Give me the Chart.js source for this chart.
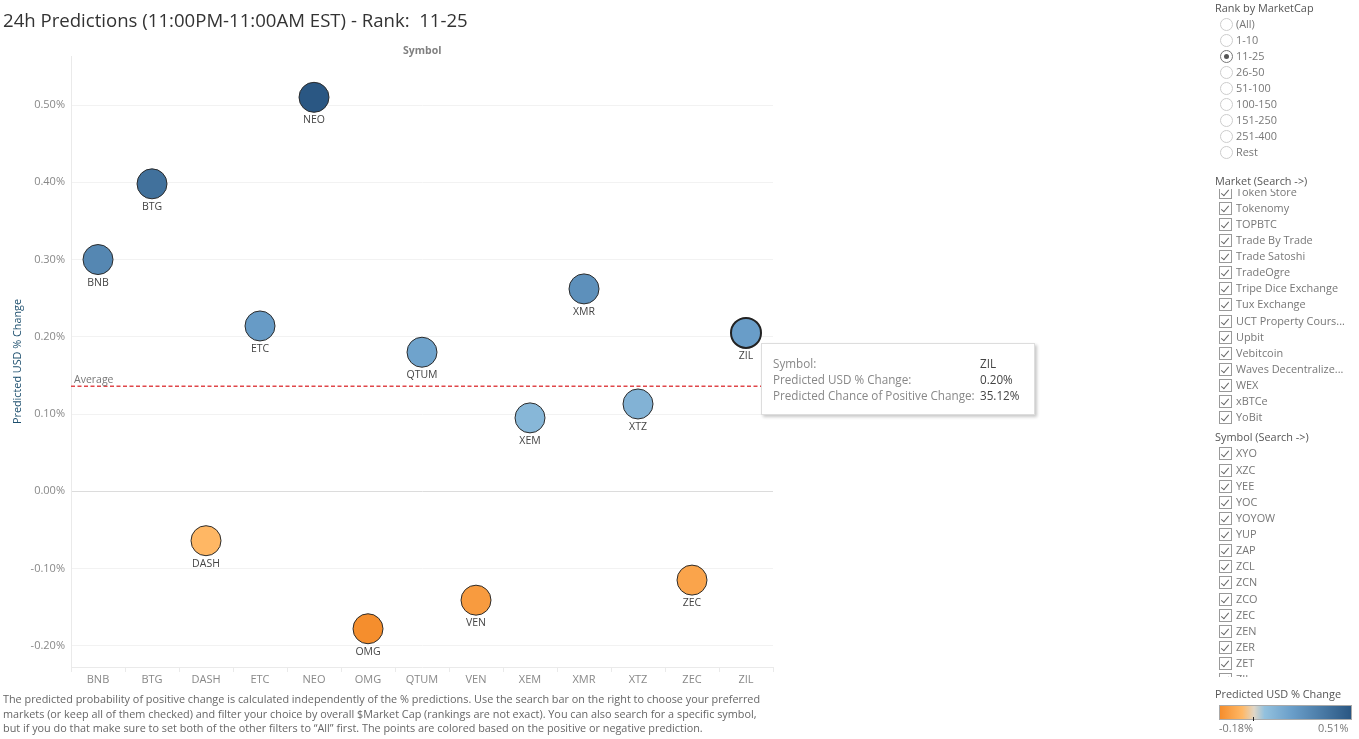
<!DOCTYPE html>
<html>
<head>
<meta charset="utf-8">
<script src="https://cdn.jsdelivr.net/npm/chart.js@4"></script>
<style>
html,body{margin:0;padding:0;background:#fff;overflow:hidden;}
body{width:1359px;height:739px;position:relative;font-family:'Open Sans',sans-serif;color:#555;}
#myChart{position:absolute;left:0;top:0;}
.abs{position:absolute;white-space:nowrap;}
#title{left:3px;top:7px;font-size:18.6px;line-height:25px;color:#333;}
#symbolTitle{left:403px;top:43px;font-size:10.5px;font-weight:700;color:#808080;}
#note{left:3px;top:692px;font-size:10.85px;line-height:14.6px;color:#666;}
#tip{left:761px;top:343px;width:272px;height:70px;background:#fff;border:1px solid #ddd;box-shadow:2px 2px 3px rgba(0,0,0,.22);font-size:11.7px;}
#tip div{position:absolute;white-space:nowrap;}
.head{left:1215px;font-size:10.9px;color:#555;}
.row{left:1236px;font-size:10.9px;color:#777;line-height:16px;}
.radio{position:absolute;left:1220px;width:11px;height:11px;border:1px solid #ccc;border-radius:50%;}
.radio.on{border-color:#777;}
.radio.on:after{content:'';position:absolute;left:3px;top:3px;width:5px;height:5px;border-radius:50%;background:#555;}
.list{position:absolute;left:1200px;width:159px;overflow:hidden;}
.box{position:absolute;left:19px;width:11px;height:11px;border:1px solid #999;background:#fff;}
.box:after{content:'';position:absolute;left:3px;top:1px;width:3px;height:7px;border:solid #666;border-width:0 1px 1px 0;transform:rotate(40deg);}
.list .row{position:absolute;left:36px;}
#legendBar{left:1219px;top:705px;width:131px;height:13px;border:1px solid #aaa;background:linear-gradient(to right,#f58d2c 0%,#ffb866 17%,#e0d6c6 26%,#93c1de 34%,#6a9ec9 55%,#2a5783 100%);}
#legendTick{left:1253px;top:717px;width:1px;height:4px;background:#222;}
</style>
</head>
<body>
<canvas id="myChart" width="1359" height="739"></canvas>
<div class="abs" id="title">24h Predictions (11:00PM-11:00AM EST) - Rank:&nbsp; 11-25</div>
<div class="abs" id="symbolTitle">Symbol</div>
<div class="abs" id="note"></div>
<div class="abs" id="tip"></div>
<div id="side"></div>
<div class="abs" id="legendBar"></div>
<div class="abs" id="legendTick"></div>
<script>
const symbols=['BNB','BTG','DASH','ETC','NEO','OMG','QTUM','VEN','XEM','XMR','XTZ','ZEC','ZIL'];
const changes=[0.30,0.398,-0.064,0.214,0.51,-0.178,0.18,-0.141,0.095,0.262,0.113,-0.115,0.205];
const yTicks=[-0.2,-0.1,0,0.1,0.2,0.3,0.4,0.5];
const averageChange=0.136;
const rankOptions=['(All)','1-10','11-25','26-50','51-100','100-150','151-250','251-400','Rest'];
const marketOptions=['Token Store','Tokenomy','TOPBTC','Trade By Trade','Trade Satoshi','TradeOgre','Tripe Dice Exchange','Tux Exchange','UCT Property Cours...','Upbit','Vebitcoin','Waves Decentralize...','WEX','xBTCe','YoBit'];
const symbolOptions=['XYO','XZC','YEE','YOC','YOYOW','YUP','ZAP','ZCL','ZCN','ZCO','ZEC','ZEN','ZER','ZET','ZIL'];
const noteLines=[
 'The predicted probability of positive change is calculated independently of the % predictions. Use the search bar on the right to choose your preferred',
 'markets (or keep all of them checked) and filter your choice by overall $Market Cap (rankings are not exact). You can also search for a specific symbol,',
 'but if you do that make sure to set both of the other filters to \u201CAll\u201D first. The points are colored based on the positive or negative prediction.'
];
const tipLabels=['Symbol:','Predicted USD % Change:','Predicted Chance of Positive Change:'];
const tipValues=['ZIL','0.20%','35.12%'];

// same diverging ramp as the legend
const colorStops=[[-0.18,[245,141,44]],[-0.06,[255,184,102]],[0,[224,214,198]],[0.05,[147,193,222]],[0.2,[106,158,201]],[0.51,[42,87,131]]];
function colorFor(v){
    for(let i=1;i<colorStops.length;i++){
        if(v<=colorStops[i][0]){
            const a=colorStops[i-1],b=colorStops[i];
            const t=Math.max(0,(v-a[0])/(b[0]-a[0]));
            const c=a[1].map((x,j)=>Math.round(x+(b[1][j]-x)*t));
            return 'rgb('+c.join(',')+')';
        }
    }
    return 'rgb(42,87,131)';
}

const font="'Open Sans',sans-serif";

const extras={
    id:'extras',
    beforeDatasetsDraw(chart){
        const c=chart.ctx,y=chart.scales.y.getPixelForValue(averageChange),a=chart.chartArea;
        c.save();
        c.strokeStyle='#e0474a';
        c.lineWidth=1.5;
        c.setLineDash([4,2.5]);
        c.beginPath();c.moveTo(a.left,y);c.lineTo(a.right,y);c.stroke();
        c.setLineDash([]);
        c.fillStyle='#777';
        c.font='10.5px '+font;
        c.textBaseline='bottom';
        c.fillText('Average',a.left+3,y-1);
        c.restore();
    },
    afterDatasetsDraw(chart){
        const c=chart.ctx,meta=chart.getDatasetMeta(0);
        c.save();
        c.fillStyle='#444';
        c.font='10.5px '+font;
        c.textAlign='center';
        c.textBaseline='middle';
        meta.data.forEach((p,i)=>c.fillText(symbols[i],p.x,p.y+23));
        c.restore();
    }
};

new Chart(document.getElementById('myChart').getContext('2d'),{
    type:'line',
    data:{
        labels:symbols,
        datasets:[{
            data:changes,
            showLine:false,
            pointRadius:15,
            backgroundColor:changes.map(colorFor),
            borderColor:symbols.map(s=>s==='ZIL'?'#222':'#2b2b2b'),
            borderWidth:symbols.map(s=>s==='ZIL'?2:1)
        }]
    },
    options:{
        responsive:false,
        animation:false,
        layout:{padding:{left:0,right:586,top:56,bottom:0}},
        plugins:{legend:{display:false},tooltip:{enabled:false}},
        scales:{
            x:{
                offset:true,
                afterFit(axis){axis.height=72;},
                grid:{offset:true,drawOnChartArea:false,color:'#eaeaea',tickLength:5},
                border:{color:'#eaeaea'},
                ticks:{color:'#888',font:{family:font,size:11},padding:1,maxRotation:0,autoSkip:false}
            },
            y:{
                min:-0.2275,
                max:0.5635,
                afterFit(axis){axis.width=71;},
                afterBuildTicks(axis){axis.ticks=yTicks.map(v=>({value:v}));},
                grid:{
                    color:ctx=>ctx.tick&&ctx.tick.value===0?'#dcdcdc':'#f2f2f2',
                    drawTicks:false
                },
                border:{color:'#eaeaea'},
                title:{display:true,text:'Predicted USD % Change',color:'#1d4f6e',font:{family:font,size:10.8},padding:{top:11,bottom:0}},
                ticks:{
                    color:'#888',
                    font:{family:font,size:11},
                    padding:6,
                    callback:v=>v.toFixed(2)+'%'
                }
            }
        }
    },
    plugins:[extras]
});

document.getElementById('note').innerHTML=noteLines.join('<br>');

const tip=document.getElementById('tip');
tipLabels.forEach((t,i)=>{
    tip.innerHTML+='<div style="left:11px;top:'+(11+i*16)+'px;color:#888">'+t+'</div>';
    tip.innerHTML+='<div style="left:218px;top:'+(11+i*16)+'px;color:#444">'+tipValues[i]+'</div>';
});

// filter panels on the right
let side='<div class="abs head" style="top:0px">Rank by MarketCap</div>';
rankOptions.forEach((r,i)=>{
    const y=24+i*16;
    side+='<span class="radio'+(r==='11-25'?' on':'')+'" style="top:'+(y-6)+'px"></span>';
    side+='<div class="abs row" style="top:'+(y-8)+'px">'+r+'</div>';
});
side+='<div class="abs head" style="top:173px">Market (Search -&gt;)</div>';
side+='<div class="list" style="top:189px;height:235px">';
marketOptions.forEach((m,i)=>{
    const y=2.5+i*16.13;
    side+='<span class="box" style="top:'+(y-6)+'px"></span><div class="row" style="top:'+(y-8)+'px">'+m+'</div>';
});
side+='</div>';
side+='<div class="abs head" style="top:429px">Symbol (Search -&gt;)</div>';
side+='<div class="list" style="top:445px;height:232px">';
symbolOptions.forEach((m,i)=>{
    const y=8.4+i*16.13;
    side+='<span class="box" style="top:'+(y-6)+'px"></span><div class="row" style="top:'+(y-8)+'px">'+m+'</div>';
});
side+='</div>';
side+='<div class="abs head" style="top:686px">Predicted USD % Change</div>';
side+='<div class="abs row" style="top:720px;left:1219px">-0.18%</div>';
side+='<div class="abs row" style="top:720px;left:1318px">0.51%</div>';
document.getElementById('side').innerHTML=side;
</script>
</body>
</html>
